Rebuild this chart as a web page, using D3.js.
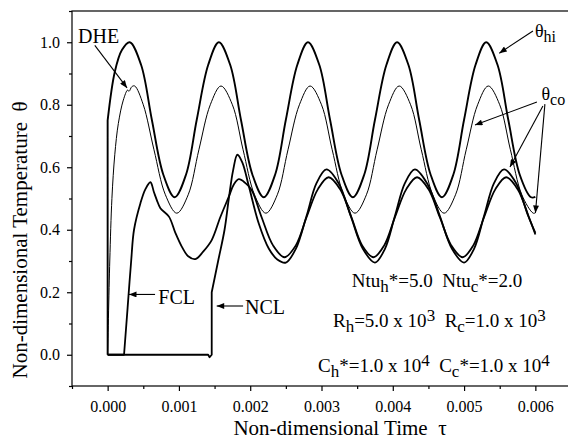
<!DOCTYPE html>
<html>
<head>
  <meta charset="utf-8">
  <script src="https://d3js.org/d3.v7.min.js"></script>
</head>
<body style="margin:0">
  <script>
    const dheHot = [
      [0, 0], [0, 0.75], [0.0001, 0.905], [0.0002, 0.975], [0.00031, 1.0],
      [0.00047, 0.927], [0.00062, 0.752], [0.00078, 0.577], [0.00094, 0.504],
      [0.0011, 0.577], [0.00125, 0.752], [0.00141, 0.927], [0.00156, 1.0],
      [0.00172, 0.927], [0.00187, 0.752], [0.00203, 0.577], [0.00219, 0.504],
      [0.00235, 0.577], [0.0025, 0.752], [0.00266, 0.927], [0.00281, 1.0],
      [0.00297, 0.927], [0.00312, 0.752], [0.00328, 0.577], [0.00344, 0.504],
      [0.0036, 0.577], [0.00375, 0.752], [0.00391, 0.927], [0.00406, 1.0],
      [0.00422, 0.927], [0.00437, 0.752], [0.00453, 0.577], [0.00469, 0.504],
      [0.00485, 0.577], [0.005, 0.752], [0.00516, 0.927], [0.00531, 1.0],
      [0.00547, 0.927], [0.00562, 0.752], [0.00578, 0.577], [0.00594, 0.504],
      [0.006, 0.505]
    ];
    const dheCold = [
      [0, 0], [0.00003, 0.3], [0.00006, 0.5], [0.0001, 0.64], [0.00015, 0.74],
      [0.00022, 0.815], [0.00028, 0.847], [0.0003, 0.843], [0.00034, 0.858],
      [0.00038, 0.86], [0.0005, 0.8], [0.00065, 0.656], [0.00081, 0.512],
      [0.00097, 0.453], [0.00113, 0.512], [0.00128, 0.656], [0.00144, 0.8],
      [0.00159, 0.86], [0.00175, 0.8], [0.0019, 0.656], [0.00206, 0.512],
      [0.00222, 0.453], [0.00238, 0.512], [0.00253, 0.656], [0.00269, 0.8],
      [0.00284, 0.86], [0.003, 0.8], [0.00315, 0.656], [0.00331, 0.512],
      [0.00347, 0.453], [0.00363, 0.512], [0.00378, 0.656], [0.00394, 0.8],
      [0.00409, 0.86], [0.00425, 0.8], [0.0044, 0.656], [0.00456, 0.512],
      [0.00472, 0.453], [0.00488, 0.512], [0.00503, 0.656], [0.00519, 0.8],
      [0.00534, 0.86], [0.0055, 0.8], [0.00565, 0.656], [0.00581, 0.512],
      [0.00597, 0.453], [0.006, 0.454]
    ];
    const fcl = [
      [0, 0], [0.00023, 0], [0.00028, 0.15], [0.00033, 0.3], [0.00037, 0.4],
      [0.00046, 0.485], [0.00053, 0.53], [0.0006, 0.552], [0.00065, 0.52],
      [0.00069, 0.495], [0.00074, 0.469], [0.00086, 0.442], [0.00095, 0.39],
      [0.00104, 0.346], [0.00113, 0.315], [0.00123, 0.306], [0.00134, 0.33],
      [0.00146, 0.367], [0.00158, 0.44], [0.0017, 0.506], [0.00177, 0.545],
      [0.00184, 0.562], [0.00193, 0.55], [0.00202, 0.527], [0.00216, 0.44],
      [0.00232, 0.35], [0.00248, 0.312], [0.00264, 0.35], [0.00279, 0.44],
      [0.00295, 0.53], [0.0031, 0.568], [0.00326, 0.53], [0.00342, 0.44],
      [0.00357, 0.35], [0.00373, 0.312], [0.00388, 0.35], [0.00403, 0.44],
      [0.00419, 0.53], [0.00434, 0.568], [0.0045, 0.53], [0.00466, 0.44],
      [0.00482, 0.35], [0.00498, 0.312], [0.00513, 0.35], [0.00528, 0.44],
      [0.00544, 0.53], [0.00559, 0.568], [0.00575, 0.53], [0.00591, 0.44],
      [0.006, 0.385]
    ];
    const ncl = [
      [0, 0], [0.00141, 0], [0.00143, -0.008], [0.00146, 0], [0.00146, 0.2],
      [0.00155, 0.3], [0.00164, 0.4], [0.0017, 0.5], [0.00176, 0.59],
      [0.00182, 0.64], [0.00189, 0.615], [0.00198, 0.54], [0.00212, 0.42],
      [0.00226, 0.34], [0.00238, 0.305], [0.0025, 0.295], [0.00264, 0.339],
      [0.00279, 0.444], [0.00293, 0.549], [0.00307, 0.593], [0.00324, 0.549],
      [0.00341, 0.444], [0.00358, 0.339], [0.00375, 0.295], [0.00389, 0.339],
      [0.00403, 0.444], [0.00417, 0.549], [0.00431, 0.593], [0.00448, 0.549],
      [0.00466, 0.444], [0.00483, 0.339], [0.005, 0.295], [0.00514, 0.339],
      [0.00528, 0.444], [0.00542, 0.549], [0.00556, 0.593], [0.00573, 0.549],
      [0.0059, 0.444], [0.006, 0.39]
    ];

    const xMajor = [0, 0.001, 0.002, 0.003, 0.004, 0.005, 0.006];
    const xMinor = [-0.0005, 0.0005, 0.0015, 0.0025, 0.0035, 0.0045, 0.0055, 0.0065];
    const yMajor = [0.0, 0.2, 0.4, 0.6, 0.8, 1.0];
    const yMinor = [-0.1, 0.1, 0.3, 0.5, 0.7, 0.9, 1.1];

    const W = 568, H = 442;
    const margin = { top: 11, left: 72 };
    const plotW = 499, plotH = 375;
    const FONT = "Times New Roman";

    const svg = d3.select("body").append("svg")
      .attr("width", W).attr("height", H)
      .attr("font-family", FONT);

    svg.append("defs").append("marker")
      .attr("id", "arr")
      .attr("viewBox", "0 -4 10 8")
      .attr("refX", 10).attr("refY", 0)
      .attr("markerWidth", 9).attr("markerHeight", 6)
      .attr("markerUnits", "userSpaceOnUse")
      .attr("orient", "auto")
      .append("path").attr("d", "M0,-4L10,0L0,4Z").attr("fill", "#000");

    const x = d3.scaleLinear().domain([-0.0005, 0.0065])
      .range([margin.left, margin.left + plotW]);
    const y = d3.scaleLinear().domain([-0.1, 1.1])
      .range([margin.top + plotH, margin.top]);

    // axes
    const bottom = margin.top + plotH;
    const axes = [
      [`translate(0,${bottom})`, d3.axisBottom(x).tickValues(xMajor).tickFormat(d3.format(".3f")).tickSize(5).tickPadding(10)],
      [`translate(0,${bottom})`, d3.axisBottom(x).tickValues(xMinor).tickFormat("").tickSize(3)],
      [`translate(${margin.left},0)`, d3.axisLeft(y).tickValues(yMajor).tickFormat(d3.format(".1f")).tickSize(5).tickPadding(7)],
      [`translate(${margin.left},0)`, d3.axisLeft(y).tickValues(yMinor).tickFormat("").tickSize(3)]
    ];
    axes.forEach(([tr, ax]) => {
      const g = svg.append("g").attr("transform", tr).call(ax.tickSizeOuter(0));
      g.attr("font-family", FONT).attr("font-size", 16);
      g.select(".domain").remove();
      g.selectAll("line").attr("stroke", "#000").attr("stroke-width", 1.2);
      g.selectAll("text").attr("fill", "#000");
    });

    // frame
    svg.append("rect")
      .attr("x", margin.left).attr("y", margin.top)
      .attr("width", plotW).attr("height", plotH)
      .attr("fill", "none").attr("stroke", "#000").attr("stroke-width", 1.2);

    // leading points (jumps) are straight, the rest is smoothed
    const straight = d3.line().x(d => x(d[0])).y(d => y(d[1]));
    const smooth = d3.line().x(d => x(d[0])).y(d => y(d[1]))
      .curve(d3.curveCatmullRom.alpha(0.5));

    const series = [
      { data: dheCold, w: 1.0, k: 1 },
      { data: dheHot, w: 1.9, k: 2 },
      { data: fcl, w: 1.8, k: 3 },
      { data: ncl, w: 1.8, k: 5 }
    ];
    svg.selectAll("path.curve").data(series).join("path")
      .attr("class", "curve")
      .attr("fill", "none").attr("stroke", "#000")
      .attr("stroke-width", d => d.w)
      .attr("stroke-linejoin", "round")
      .attr("d", d => {
        const head = d.k > 1 ? straight(d.data.slice(0, d.k)) : "";
        const tail = smooth(d.data.slice(d.k - 1)).replace(/^M[^A-Za-z]*/, "");
        return (head || `M${x(d.data[0][0])},${y(d.data[0][1])}`) + tail;
      });

    // annotations
    function arrow(t0, v0, t1, v1) {
      svg.append("line")
        .attr("x1", x(t0)).attr("y1", y(v0))
        .attr("x2", x(t1)).attr("y2", y(v1))
        .attr("stroke", "#000").attr("stroke-width", 1.1)
        .attr("marker-end", "url(#arr)");
    }
    function rich(t, v, parts, size) {
      const txt = svg.append("text")
        .attr("x", x(t)).attr("y", y(v))
        .attr("font-family", FONT)
        .attr("font-size", size);
      parts.forEach(p => {
        const s = txt.append("tspan").text(p[0]);
        if (p[1] === "sub") s.attr("dy", 5).attr("font-size", size - 2);
        if (p[1] === "sup") s.attr("dy", -6).attr("font-size", size - 2);
        if (p[1] === "back-sub") s.attr("dy", -5);
        if (p[1] === "back-sup") s.attr("dy", 6);
      });
      return txt;
    }

    rich(-0.000415, 0.9976, [["DHE"]], 20);
    arrow(-0.00018, 0.99, 0.000272, 0.854);

    rich(0.000711, 0.162, [["FCL"]], 20);
    arrow(0.000665, 0.193, 0.0003, 0.193);
    rich(0.001927, 0.13, [["NCL"]], 20);
    arrow(0.0019, 0.156, 0.00153, 0.156);

    rich(0.005994, 1.017, [["θ"], ["hi", "sub"]], 18);
    arrow(0.005966, 1.036, 0.005494, 0.965);
    rich(0.006086, 0.815, [["θ"], ["co", "sub"]], 18);
    arrow(0.006022, 0.809, 0.005153, 0.735);
    arrow(0.006106, 0.796, 0.005644, 0.601);
    arrow(0.006134, 0.802, 0.006001, 0.454);

    rich(0.003424, 0.2184, [["Ntu"], ["h", "sub"], ["*=5.0\u00a0\u00a0Ntu", "back-sub"], ["c", "sub"], ["*=2.0", "back-sub"]], 19);
    rich(0.003161, 0.0888, [["R"], ["h", "sub"], ["=5.0 x 10", "back-sub"], ["3", "sup"], ["\u00a0\u00a0R", "back-sup"], ["c", "sub"], ["=1.0 x 10", "back-sub"], ["3", "sup"]], 19);
    rich(0.002951, -0.055, [["C"], ["h", "sub"], ["*=1.0 x 10", "back-sub"], ["4", "sup"], ["\u00a0\u00a0C", "back-sup"], ["c", "sub"], ["*=1.0 x 10", "back-sub"], ["4", "sup"]], 19);

    // axis titles
    svg.append("text")
      .attr("x", 340).attr("y", 435).attr("text-anchor", "middle")
      .attr("font-family", FONT).attr("font-size", 21)
      .text("Non-dimensional Time\u00a0\u00a0τ");
    svg.append("text")
      .attr("transform", "translate(27,240) rotate(-90)")
      .attr("text-anchor", "middle")
      .attr("font-family", FONT).attr("font-size", 21)
      .text("Non-dimensional Temperature\u00a0\u00a0θ");
  </script>
</body>
</html>
